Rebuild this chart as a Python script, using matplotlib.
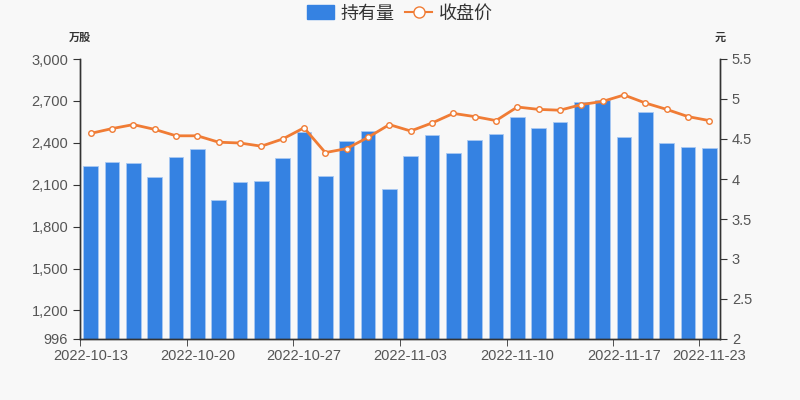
"""Holdings vs closing price chart."""

import matplotlib
matplotlib.use("Agg")
import matplotlib.pyplot as plt
from matplotlib.lines import Line2D
from matplotlib.patches import Patch
from matplotlib.ticker import FuncFormatter

plt.rcParams["font.family"] = ["Liberation Sans", "Noto Sans CJK SC", "DejaVu Sans"]

dates = [
    "2022-10-13", "2022-10-14", "2022-10-17", "2022-10-18", "2022-10-19",
    "2022-10-20", "2022-10-21", "2022-10-24", "2022-10-25", "2022-10-26",
    "2022-10-27", "2022-10-28", "2022-10-31", "2022-11-01", "2022-11-02",
    "2022-11-03", "2022-11-04", "2022-11-07", "2022-11-08", "2022-11-09",
    "2022-11-10", "2022-11-11", "2022-11-14", "2022-11-15", "2022-11-16",
    "2022-11-17", "2022-11-18", "2022-11-21", "2022-11-22", "2022-11-23",
]
holdings = [
    2236, 2263, 2256, 2155, 2296, 2356, 1989, 2117, 2125, 2291,
    2475, 2163, 2415, 2482, 2070, 2306, 2456, 2327, 2420, 2466,
    2582, 2506, 2549, 2692, 2707, 2440, 2621, 2399, 2368, 2361,
]
close_price = [
    4.57, 4.63, 4.68, 4.62, 4.54, 4.54, 4.46, 4.45, 4.41, 4.50,
    4.64, 4.33, 4.38, 4.52, 4.68, 4.60, 4.70, 4.82, 4.78, 4.73,
    4.90, 4.87, 4.86, 4.93, 4.97, 5.05, 4.95, 4.87, 4.78, 4.73,
]
left_ticks = [996, 1200, 1500, 1800, 2100, 2400, 2700, 3000]
right_ticks = [2, 2.5, 3, 3.5, 4, 4.5, 5, 5.5]
label_idx = [0, 5, 10, 15, 20, 25, 29]

BAR_COLOR = "#3582e2"
LINE_COLOR = "#f07c35"
TEXT_COLOR = "#555555"
AXIS_COLOR = "#333333"

fig = plt.figure(figsize=(8, 4), dpi=100, facecolor="#f8f8f8")
ax = fig.add_axes([0.1, 0.1525, 0.8, 0.70])
ax.set_facecolor("#f8f8f8")
ax2 = ax.twinx()

x = list(range(len(dates)))
ax.bar(x, holdings, width=0.7, color=BAR_COLOR, edgecolor="#a9c9f2", linewidth=0.6, zorder=2)
ax2.plot(x, close_price, color=LINE_COLOR, linewidth=2, marker="o", markersize=4,
         markerfacecolor="white", markeredgecolor=LINE_COLOR, markeredgewidth=1, zorder=3)

ax.set_xlim(-0.5, len(dates) - 0.5)
ax.set_ylim(996, 3000)
ax2.set_ylim(2, 5.5)

ax.set_yticks(left_ticks)
ax.yaxis.set_major_formatter(FuncFormatter(lambda v, _: f"{int(v):,}"))
ax2.set_yticks(right_ticks)
ax2.set_yticklabels([f"{v:g}" for v in right_ticks])

# labels centred on bars, tick marks on the band boundaries
ax.set_xticks(label_idx)
ax.set_xticklabels([dates[i] for i in label_idx])
ax.set_xticks([i - 0.5 for i in label_idx], minor=True)
ax.tick_params(axis="x", which="major", length=0, pad=7, labelsize=10.5, labelcolor=TEXT_COLOR)
ax.tick_params(axis="x", which="minor", length=5, color=AXIS_COLOR)
ax.tick_params(axis="y", length=5, color=AXIS_COLOR, labelsize=10.5, labelcolor=TEXT_COLOR)
ax2.tick_params(axis="y", length=5, color=AXIS_COLOR, labelsize=10.5, labelcolor=TEXT_COLOR)

for a in (ax, ax2):
    a.spines["top"].set_visible(False)
    for s in ("left", "right", "bottom"):
        a.spines[s].set_color(AXIS_COLOR)
        a.spines[s].set_linewidth(1)

fig.text(0.1, 0.905, "万股", ha="center", va="center", fontsize=8, fontweight="bold", color="#333333")
fig.text(0.9, 0.905, "元", ha="center", va="center", fontsize=8, fontweight="bold", color="#333333")

handles = [
    Patch(facecolor=BAR_COLOR, edgecolor=BAR_COLOR, label="持有量"),
    Line2D([], [], color=LINE_COLOR, linewidth=1.5, marker="o", markersize=8,
           markerfacecolor="white", markeredgecolor=LINE_COLOR, label="收盘价"),
]
fig.legend(handles=handles, loc="center", bbox_to_anchor=(0.5, 0.965), ncol=2, frameon=False,
           fontsize=13, handlelength=1.5, handleheight=0.8, handletextpad=0.35, columnspacing=0.6,
           labelcolor="#333333")

fig.savefig("out.png", dpi=100, facecolor=fig.get_facecolor())
